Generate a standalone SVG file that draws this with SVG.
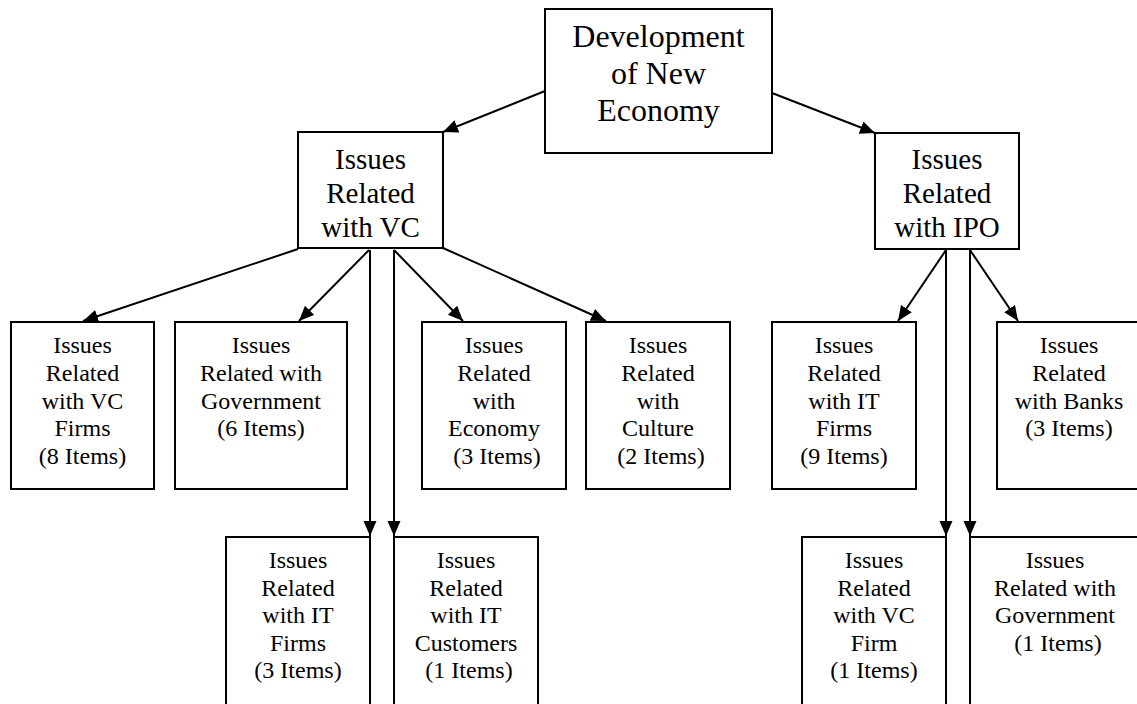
<svg xmlns="http://www.w3.org/2000/svg" width="1137" height="704" viewBox="0 0 1137 704">
<style>
.box{fill:#fff;stroke:#000;stroke-width:2}
.t{font-family:"Liberation Serif","Times New Roman",serif;fill:#000;text-anchor:middle}
.t32{font-size:32px}
.t29{font-size:29px}
.t24{font-size:24px}
.edge{stroke:#000;stroke-width:2;fill:none;marker-end:url(#ah)}
</style>
<defs>
<marker id="ah" markerUnits="userSpaceOnUse" markerWidth="16" markerHeight="14" refX="15" refY="6.5" orient="auto">
<path d="M0,0 L15,6.5 L0,13 z" fill="#000"/>
</marker>
</defs>
<rect width="1137" height="704" fill="#fff"/>
<g id="connectors">
<line class="edge" x1="545" y1="91" x2="443" y2="132"/>
<line class="edge" x1="772" y1="93" x2="875" y2="133"/>
<line class="edge" x1="298" y1="249" x2="83" y2="321"/>
<line class="edge" x1="369" y1="250" x2="299" y2="321"/>
<line class="edge" x1="370" y1="250" x2="370" y2="536"/>
<line class="edge" x1="394" y1="250" x2="394" y2="536"/>
<line class="edge" x1="394" y1="250" x2="463" y2="321"/>
<line class="edge" x1="443" y1="248" x2="606" y2="321"/>
<line class="edge" x1="946" y1="250" x2="898" y2="321"/>
<line class="edge" x1="946" y1="250" x2="946" y2="536"/>
<line class="edge" x1="970" y1="250" x2="970" y2="536"/>
<line class="edge" x1="970" y1="250" x2="1018" y2="321"/>
</g>
<g id="n-root">
<rect class="box" x="545" y="9" width="227" height="144"/>
<text class="t t32" x="658.5" y="47">Development</text>
<text class="t t32" x="658.5" y="84">of New</text>
<text class="t t32" x="658.5" y="121">Economy</text>
</g>
<g id="n-vc">
<rect class="box" x="298" y="132" width="145" height="116"/>
<text class="t t29" x="370.5" y="169">Issues</text>
<text class="t t29" x="370.5" y="203">Related</text>
<text class="t t29" x="370.5" y="237">with VC</text>
</g>
<g id="n-ipo">
<rect class="box" x="875" y="133" width="144" height="116"/>
<text class="t t29" x="947" y="169">Issues</text>
<text class="t t29" x="947" y="203">Related</text>
<text class="t t29" x="947" y="237">with IPO</text>
</g>
<g id="n-vcfirms">
<rect class="box" x="11" y="322" width="143" height="167"/>
<text class="t t24" x="82.5" y="353">Issues</text>
<text class="t t24" x="82.5" y="381">Related</text>
<text class="t t24" x="82.5" y="409">with VC</text>
<text class="t t24" x="82.5" y="436">Firms</text>
<text class="t t24" x="82.5" y="464">(8 Items)</text>
</g>
<g id="n-gov">
<rect class="box" x="175" y="322" width="172" height="167"/>
<text class="t t24" x="261" y="353">Issues</text>
<text class="t t24" x="261" y="381">Related with</text>
<text class="t t24" x="261" y="409">Government</text>
<text class="t t24" x="261" y="436">(6 Items)</text>
</g>
<g id="n-economy">
<rect class="box" x="422" y="322" width="144" height="167"/>
<text class="t t24" x="494" y="353">Issues</text>
<text class="t t24" x="494" y="381">Related</text>
<text class="t t24" x="494" y="409">with</text>
<text class="t t24" x="494" y="436">Economy</text>
<text class="t t24" x="497" y="464">(3 Items)</text>
</g>
<g id="n-culture">
<rect class="box" x="586" y="322" width="144" height="167"/>
<text class="t t24" x="658" y="353">Issues</text>
<text class="t t24" x="658" y="381">Related</text>
<text class="t t24" x="658" y="409">with</text>
<text class="t t24" x="658" y="436">Culture</text>
<text class="t t24" x="661" y="464">(2 Items)</text>
</g>
<g id="n-itfirms-ipo">
<rect class="box" x="772" y="322" width="144" height="167"/>
<text class="t t24" x="844" y="353">Issues</text>
<text class="t t24" x="844" y="381">Related</text>
<text class="t t24" x="844" y="409">with IT</text>
<text class="t t24" x="844" y="436">Firms</text>
<text class="t t24" x="844" y="464">(9 Items)</text>
</g>
<g id="n-banks">
<rect class="box" x="997" y="322" width="150" height="167"/>
<text class="t t24" x="1069" y="353">Issues</text>
<text class="t t24" x="1069" y="381">Related</text>
<text class="t t24" x="1069" y="409">with Banks</text>
<text class="t t24" x="1069" y="436">(3 Items)</text>
</g>
<g id="n-itfirms-vc">
<rect class="box" x="226" y="537" width="144" height="180"/>
<text class="t t24" x="298" y="568">Issues</text>
<text class="t t24" x="298" y="596">Related</text>
<text class="t t24" x="298" y="623">with IT</text>
<text class="t t24" x="298" y="651">Firms</text>
<text class="t t24" x="298" y="678">(3 Items)</text>
</g>
<g id="n-customers">
<rect class="box" x="394" y="537" width="144" height="180"/>
<text class="t t24" x="466" y="568">Issues</text>
<text class="t t24" x="466" y="596">Related</text>
<text class="t t24" x="466" y="623">with IT</text>
<text class="t t24" x="466" y="651">Customers</text>
<text class="t t24" x="469" y="678">(1 Items)</text>
</g>
<g id="n-vcfirm">
<rect class="box" x="802" y="537" width="144" height="180"/>
<text class="t t24" x="874" y="568">Issues</text>
<text class="t t24" x="874" y="596">Related</text>
<text class="t t24" x="874" y="623">with VC</text>
<text class="t t24" x="874" y="651">Firm</text>
<text class="t t24" x="874" y="678">(1 Items)</text>
</g>
<g id="n-gov-ipo">
<rect class="box" x="970" y="537" width="180" height="180"/>
<text class="t t24" x="1055" y="568">Issues</text>
<text class="t t24" x="1055" y="596">Related with</text>
<text class="t t24" x="1055" y="623">Government</text>
<text class="t t24" x="1058" y="651">(1 Items)</text>
</g>
</svg>
